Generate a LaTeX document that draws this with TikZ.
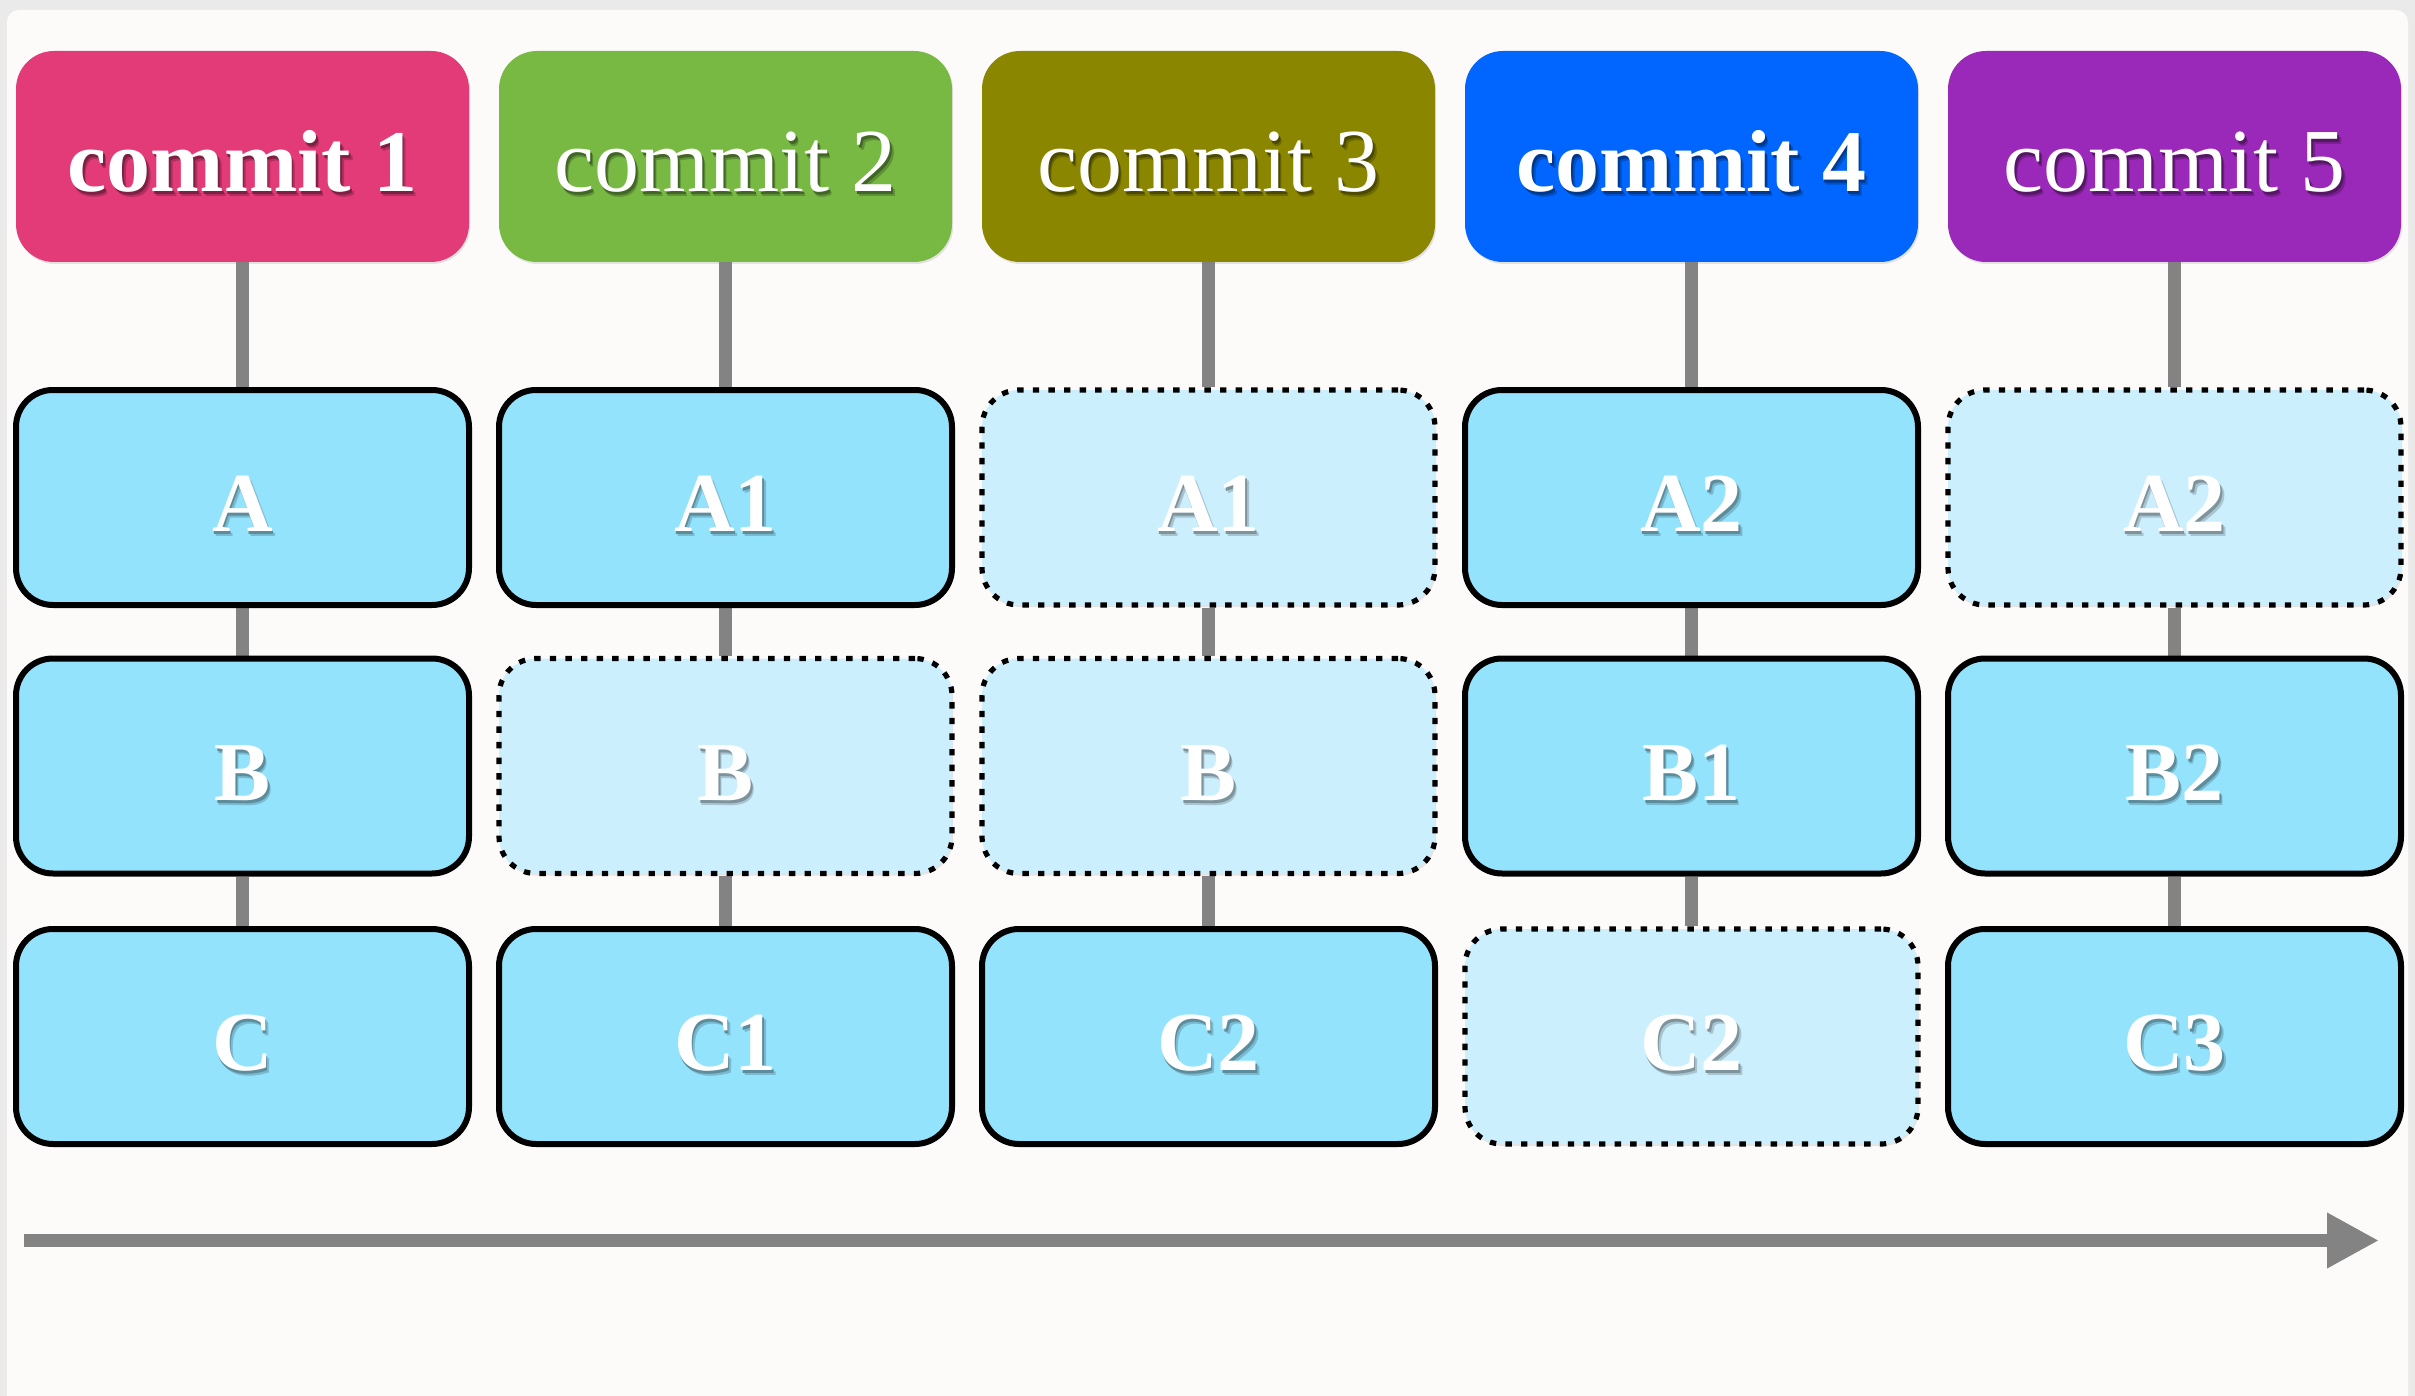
\documentclass[tikz,border=0pt]{standalone}
\usepackage{fontspec}
\setmainfont{Liberation Serif}
\usetikzlibrary{arrows.meta,shadows}
\definecolor{outerc}{HTML}{EAEAEA}
\definecolor{panelc}{HTML}{FCFBFA}
\definecolor{linegray}{HTML}{838383}
\definecolor{boxblue}{HTML}{94E3FD}
\definecolor{ghostblue}{HTML}{CBEFFD}
\definecolor{cpink}{HTML}{E33B78}
\definecolor{cgreen}{HTML}{78B944}
\definecolor{colive}{HTML}{8B8600}
\definecolor{cblue}{HTML}{0066FF}
\definecolor{cpurple}{HTML}{9A28B8}
\colorlet{shc}{black}
\colorlet{shcb}{black}
\pgfdeclarelayer{panel}
\pgfdeclarelayer{links}
\pgfsetlayers{panel,links,main}
\newcommand\shtxt[1]{%
  \makebox[0pt][l]{\kern1.6pt\raisebox{-2.6pt}{\textcolor{shcb}{#1}}}%
  \makebox[0pt][l]{\kern0.9pt\raisebox{-1.6pt}{\textcolor{shc}{#1}}}#1}
\tikzset{
  box/.style={rounded corners=18.5pt, minimum width=226.5pt, minimum height=107.5pt,
    inner sep=0pt, text=white, text height=34pt, text depth=0pt,
    font=\fontsize{42}{42}\selectfont\bfseries},
  fullbox/.style={box, fill=boxblue, draw=black, line width=3pt,
    execute at begin node={\colorlet{shc}{boxblue!62!black}\colorlet{shcb}{boxblue!82!black}}},
  ghostbox/.style={box, fill=ghostblue, draw=black, line width=2.6pt,
    dash pattern=on 3.2pt off 4.6pt,
    drop shadow={opacity=0.18, shadow xshift=0.6pt, shadow yshift=-1pt},
    execute at begin node={\colorlet{shc}{ghostblue!62!black}\colorlet{shcb}{ghostblue!82!black}}},
  commitbox/.style={rounded corners=19pt, minimum width=226.5pt, minimum height=105.5pt,
    inner sep=0pt, text=white, fill=#1, text height=35pt, text depth=0pt,
    drop shadow={opacity=0.2, shadow xshift=0.6pt, shadow yshift=-1pt},
    font=\fontsize{45}{45}\selectfont,
    execute at begin node={\colorlet{shc}{#1!55!black}\colorlet{shcb}{#1!78!black}}},
  link/.style={draw=linegray, line width=6.5pt},
  timearrow/.style={draw=linegray, line width=6.5pt, -{Triangle[length=26pt,width=26pt]}}
}
\begin{document}
\begin{tikzpicture}[x=0.5pt, y=-0.5pt]
\useasboundingbox (0,0) rectangle (2415,1396);
\begin{pgfonlayer}{panel}
  \fill[outerc] (0,0) rectangle (2415,1396);
  \fill[panelc, rounded corners=6pt] (7,10) rectangle (2408,1412);
\end{pgfonlayer}

% commit headers
\node[commitbox=cpink]   (cm1) at (242.5,156.5)  {\fontsize{44}{44}\selectfont\bfseries\shtxt{commit 1}};
\node[commitbox=cgreen]  (cm2) at (725.5,156.5)  {\shtxt{commit 2}};
\node[commitbox=colive]  (cm3) at (1208.5,156.5) {\shtxt{commit 3}};
\node[commitbox=cblue]   (cm4) at (1691.5,156.5) {\fontsize{44}{44}\selectfont\bfseries\shtxt{commit 4}};
\node[commitbox=cpurple] (cm5) at (2174.5,156.5) {\shtxt{commit 5}};

% row A
\node[fullbox]  (ra1) at (242.5,497.5)  {\shtxt{A}};
\node[fullbox]  (ra2) at (725.5,497.5)  {\shtxt{A1}};
\node[ghostbox] (ra3) at (1208.5,497.5) {\shtxt{A1}};
\node[fullbox]  (ra4) at (1691.5,497.5) {\shtxt{A2}};
\node[ghostbox] (ra5) at (2174.5,497.5) {\shtxt{A2}};

% row B
\node[fullbox]  (rb1) at (242.5,766)  {\shtxt{B}};
\node[ghostbox] (rb2) at (725.5,766)  {\shtxt{B}};
\node[ghostbox] (rb3) at (1208.5,766) {\shtxt{B}};
\node[fullbox]  (rb4) at (1691.5,766) {\shtxt{B1}};
\node[fullbox]  (rb5) at (2174.5,766) {\shtxt{B2}};

% row C
\node[fullbox]  (rc1) at (242.5,1036.5)  {\shtxt{C}};
\node[fullbox]  (rc2) at (725.5,1036.5)  {\shtxt{C1}};
\node[fullbox]  (rc3) at (1208.5,1036.5) {\shtxt{C2}};
\node[ghostbox] (rc4) at (1691.5,1036.5) {\shtxt{C2}};
\node[fullbox]  (rc5) at (2174.5,1036.5) {\shtxt{C3}};

\begin{pgfonlayer}{links}
  \foreach \i in {1,...,5} {
    \draw[link] (cm\i.south) -- (ra\i.north);
    \draw[link] (ra\i.south) -- (rb\i.north);
    \draw[link] (rb\i.south) -- (rc\i.north);
  }
\end{pgfonlayer}

\coordinate (tstart) at (24,1240.5);
\coordinate (tend) at (2379,1240.5);
\draw[timearrow] (tstart) -- (tend);
\end{tikzpicture}
\end{document}
